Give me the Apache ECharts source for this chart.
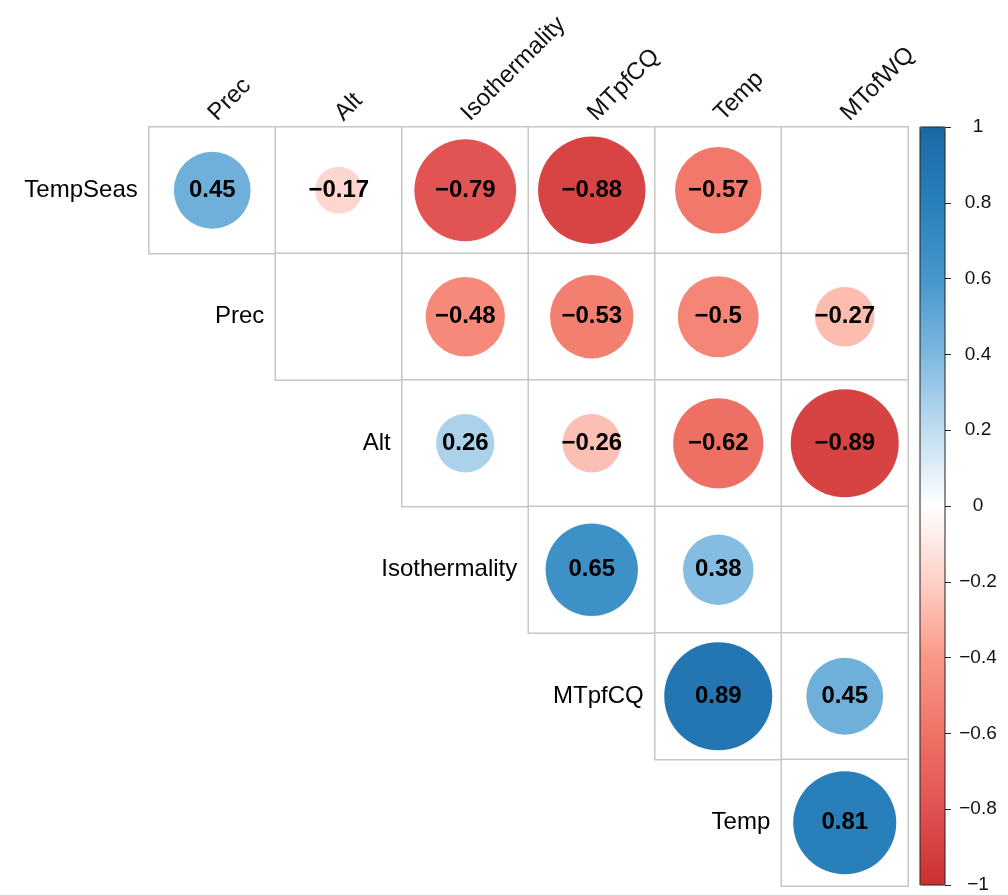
<!DOCTYPE html>
<html>
<head>
<meta charset="utf-8">
<script src="https://cdn.jsdelivr.net/npm/echarts@6/dist/echarts.min.js"></script>
<style>
html,body{margin:0;padding:0;background:#fff;}
#chart{width:1008px;height:895px;}
</style>
</head>
<body>
<div id="chart"></div>
<script>
// ---- data ----
const rowNames = ['TempSeas', 'Prec', 'Alt', 'Isothermality', 'MTpfCQ', 'Temp'];
const colNames = ['Prec', 'Alt', 'Isothermality', 'MTpfCQ', 'Temp', 'MTofWQ'];
// each row starts at the column with the same index (upper triangle); null = blank cell
const rowTempSeas = [0.45, -0.17, -0.79, -0.88, -0.57, null];
const rowPrec = [null, -0.48, -0.53, -0.5, -0.27];
const rowAlt = [0.26, -0.26, -0.62, -0.89];
const rowIsothermality = [0.65, 0.38, null];
const rowMTpfCQ = [0.89, 0.45];
const rowTemp = [0.81];
const colorbarTicks = [-1, -0.8, -0.6, -0.4, -0.2, 0, 0.2, 0.4, 0.6, 0.8, 1];
const paletteStops = ['#CB3030', '#E05252', '#EF7266', '#FA9886', '#FDD0C7', '#FFFFFF', '#C0DCEF', '#7DB8E0', '#4596CB', '#2A80BB', '#1A69A5'];

const rowsData = [rowTempSeas, rowPrec, rowAlt, rowIsothermality, rowMTpfCQ, rowTemp];

const cellData = [];
const circleData = [];
rowsData.forEach((row, i) => {
  row.forEach((v, k) => {
    const j = i + k;
    cellData.push([j, i, 0]);
    if (v !== null) circleData.push([j, i, v]);
  });
});
const labelData = rowNames.map((r, i) => ({ value: [i, i], name: r }));

const FONT = "'Liberation Sans', Arial, Helvetica, sans-serif";
const fmtNum = v => (v < 0 ? '\u2212' : '') + String(Math.abs(+(+v).toFixed(2)));

const chart = echarts.init(document.getElementById('chart'));
chart.setOption({
  backgroundColor: '#ffffff',
  animation: false,
  textStyle: { fontFamily: FONT },
  grid: [
    { left: 149, top: 127, width: 759, height: 759 },
    { left: 920, top: 127, width: 25, height: 758, show: true, borderColor: '#222', borderWidth: 1, backgroundColor: 'transparent', z: 10 }
  ],
  xAxis: [
    {
      type: 'category', data: colNames, position: 'top', gridIndex: 0,
      axisLine: { show: false }, axisTick: { show: false }, splitLine: { show: false },
      axisLabel: { interval: 0, rotate: -45, margin: 10, fontSize: 24, color: '#111', fontFamily: FONT }
    },
    { type: 'value', gridIndex: 1, show: false, min: 0, max: 1 }
  ],
  yAxis: [
    {
      type: 'category', data: rowNames, inverse: true, gridIndex: 0,
      axisLine: { show: false }, axisTick: { show: false }, axisLabel: { show: false }, splitLine: { show: false }
    },
    {
      type: 'value', gridIndex: 1, position: 'right', min: -1, max: 1, interval: 0.2, z: 10,
      axisLine: { show: false, onZero: false },
      axisTick: { show: true, inside: false, length: 6, lineStyle: { color: '#222', width: 1 } },
      splitLine: { show: false },
      axisLabel: { margin: 33, align: 'center', fontSize: 19, color: '#111', fontFamily: FONT, formatter: v => fmtNum(v) }
    }
  ],
  visualMap: {
    type: 'continuous', min: -1, max: 1, seriesIndex: [1],
    orient: 'vertical', left: 920, top: 127, itemWidth: 25, itemHeight: 758,
    padding: 0, calculable: false, showLabel: false, hoverLink: false, text: null,
    inRange: { color: paletteStops }
  },
  series: [
    {
      type: 'heatmap', xAxisIndex: 0, yAxisIndex: 0, data: cellData,
      itemStyle: { color: '#ffffff', borderColor: '#c6c6c6', borderWidth: 1.5, opacity: 1 },
      emphasis: { disabled: true }, silent: true, z: 1
    },
    {
      type: 'scatter', xAxisIndex: 0, yAxisIndex: 0, data: circleData,
      symbol: 'circle',
      symbolSize: val => 114.5 * Math.sqrt(Math.abs(val[2])),
      itemStyle: { opacity: 1 },
      label: {
        show: true, position: 'inside', fontSize: 24, fontWeight: 'bold', color: '#000', fontFamily: FONT, opacity: 1,
        formatter: p => fmtNum(p.value[2])
      },
      emphasis: { disabled: true }, silent: true, z: 3
    },
    {
      type: 'scatter', xAxisIndex: 0, yAxisIndex: 0, data: labelData,
      symbolSize: 1, itemStyle: { color: 'rgba(0,0,0,0)', opacity: 1 },
      label: { show: true, position: 'left', distance: 74, formatter: '{b}', fontSize: 24, color: '#000', opacity: 1, fontFamily: FONT },
      emphasis: { disabled: true }, silent: true, z: 4
    }
  ]
});
</script>
</body>
</html>
